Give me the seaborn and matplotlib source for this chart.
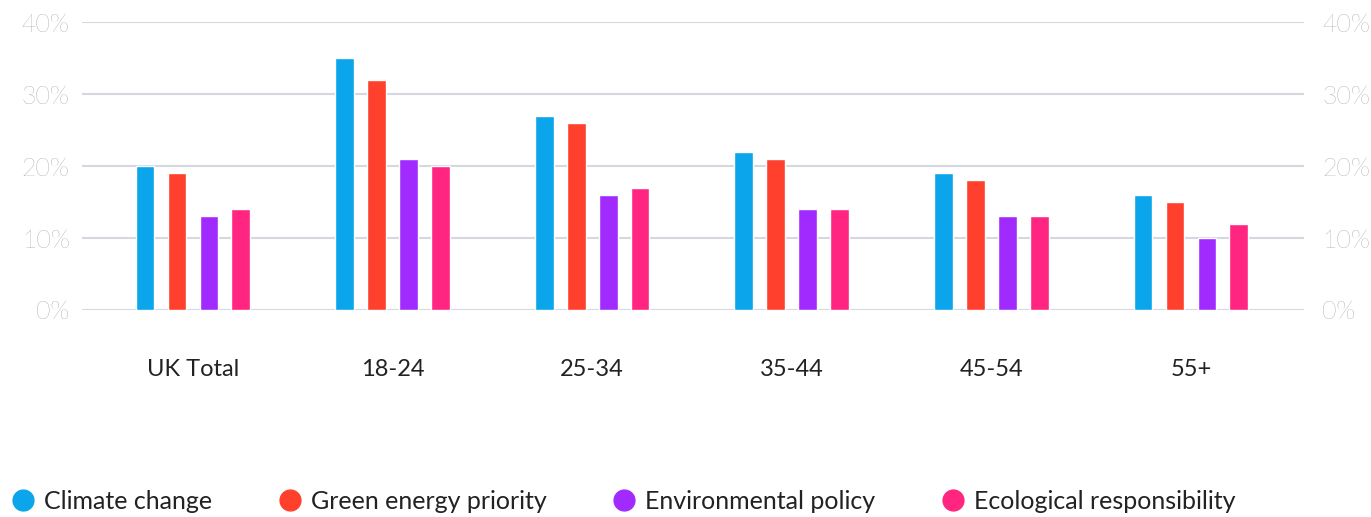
import pandas as pd
import matplotlib.pyplot as plt
import seaborn as sns
from matplotlib.lines import Line2D
from matplotlib.ticker import FuncFormatter

groups = ['UK Total', '18-24', '25-34', '35-44', '45-54', '55+']
series = ['Climate change', 'Green energy priority', 'Environmental policy', 'Ecological responsibility']
climate = [20, 35, 27, 22, 19, 16]
green = [19, 32, 26, 21, 18, 15]
policy = [13, 21, 16, 14, 13, 10]
ecology = [14, 20, 17, 14, 13, 12]
colors = ['#0AA5EA', '#FF402C', '#A12BFF', '#FF2580']

rows = []
for name, vals in zip(series, [climate, green, policy, ecology]):
    for g, v in zip(groups, vals):
        rows.append({'group': g, 'series': name, 'value': v})
df = pd.DataFrame(rows)

sns.set_style('white')
plt.rcParams['font.family'] = ['Lato', 'DejaVu Sans']

fig = plt.figure(figsize=(13.71, 5.17), dpi=100)
ax = fig.add_axes([0.0598, 0.4004, 0.8913, 0.557])

sns.barplot(data=df, x='group', y='value', hue='series', palette=colors,
            width=0.64, gap=0.41, saturation=1, legend=False, ax=ax)

ax.set_ylim(0, 40)
ax.set_xlim(-0.556, 5.566)
ax.set_yticks([0, 10, 20, 30, 40])
ax.yaxis.set_major_formatter(FuncFormatter(lambda v, p: f'{v:.0f}%'))
ax.grid(axis='y', color='#d5d8e0', linewidth=1.5)
ax.set_axisbelow(True)
for s in ax.spines.values():
    s.set_visible(False)
ax.set_xlabel('')
ax.set_ylabel('')
ax.tick_params(axis='y', length=0, pad=9, labelsize=18, labelcolor='#7c7c7c')
ax.tick_params(axis='x', length=0, pad=35, labelsize=17, labelcolor='#222222')
for t in ax.get_yticklabels():
    t.set_fontweight('light')

ax2 = ax.twinx()
ax2.set_ylim(0, 40)
ax2.set_yticks([0, 10, 20, 30, 40])
ax2.yaxis.set_major_formatter(FuncFormatter(lambda v, p: f'{v:.0f}%'))
for s in ax2.spines.values():
    s.set_visible(False)
ax2.tick_params(axis='y', length=0, pad=13, labelsize=18, labelcolor='#7c7c7c')
for t in ax2.get_yticklabels():
    t.set_fontweight('light')

handles = [Line2D([0], [0], marker='o', linestyle='', markersize=15,
                  markerfacecolor=c, markeredgecolor=c) for c in colors]
fig.legend(handles, series, loc='lower left', bbox_to_anchor=(-0.009, -0.036), ncol=4,
           frameon=False, fontsize=18, handletextpad=0.35, columnspacing=2.6,
           handlelength=1.0, labelcolor='#222222')

fig.savefig('out.png', dpi=100)
